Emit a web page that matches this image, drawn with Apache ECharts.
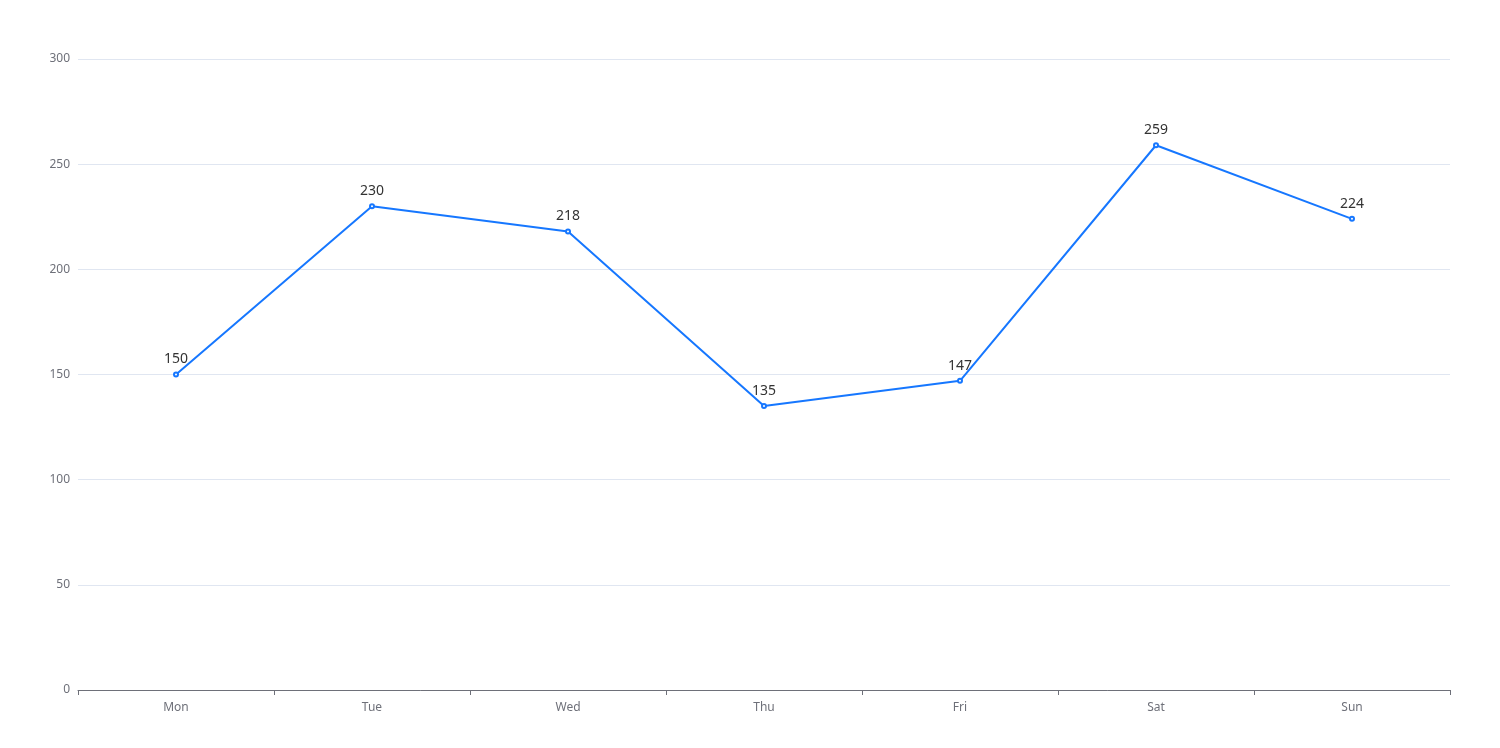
<!DOCTYPE html>
<html>
<head>
<meta charset="utf-8">
<script src="https://cdn.jsdelivr.net/npm/echarts@6/dist/echarts.min.js"></script>
<style>
  html, body { margin: 0; padding: 0; background: #fff; }
  #main { width: 1500px; height: 748px; }
</style>
</head>
<body>
<div id="main"></div>
<script>
// data
var days = ['Mon', 'Tue', 'Wed', 'Thu', 'Fri', 'Sat', 'Sun'];
var values = [150, 230, 218, 135, 147, 259, 224];

var chart = echarts.init(document.getElementById('main'));

var option = {
    animation: false,
    textStyle: { fontFamily: '"Noto Sans", sans-serif' },
    grid: { left: 78, right: 50, top: 59, bottom: 58, containLabel: false },
    xAxis: {
        type: 'category',
        data: days,
        axisLine: { lineStyle: { color: '#6e7079' } },
        axisTick: { show: true, lineStyle: { color: '#6e7079' } },
        axisLabel: { color: '#6e7079', fontSize: 12, margin: 12 }
    },
    yAxis: {
        type: 'value',
        min: 0,
        max: 300,
        interval: 50,
        axisLabel: { color: '#6e7079', fontSize: 12, margin: 8 },
        splitLine: { lineStyle: { color: '#e0e6f1' } }
    },
    series: [{
        type: 'line',
        data: values,
        symbol: 'emptyCircle',
        symbolSize: 4,
        itemStyle: { color: '#1677ff' },
        lineStyle: { color: '#1677ff', width: 2 },
        label: { show: true, position: 'top', color: '#333', fontSize: 14 }
    }]
};

chart.setOption(option);
</script>
</body>
</html>
